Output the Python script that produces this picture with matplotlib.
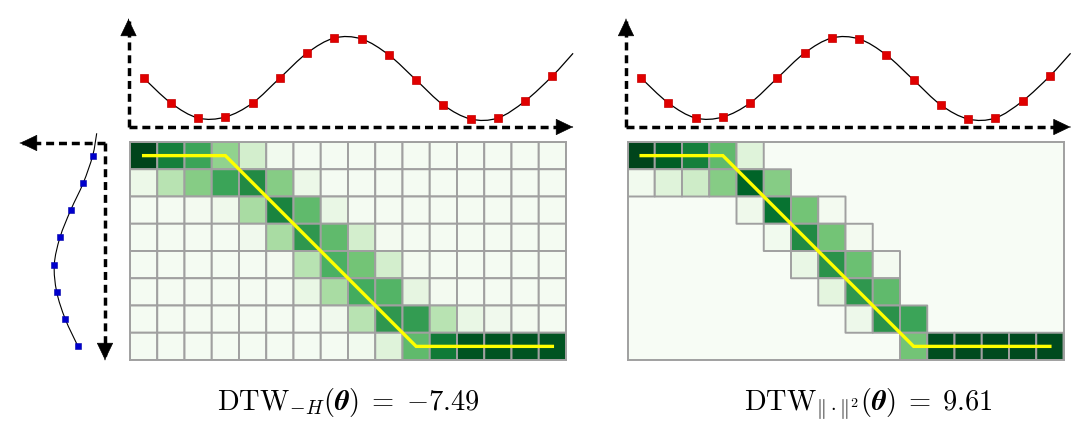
import matplotlib
matplotlib.use("Agg")
import matplotlib.pyplot as plt
import numpy as np
from matplotlib.path import Path
from matplotlib.patches import PathPatch

plt.rcParams['mathtext.fontset'] = 'cm'

nan = np.nan

# time series on top (one value per column of the grid)
top_vals = [4.9, 2.4, 0.9, 1.0, 2.4, 4.9, 7.4, 8.9, 8.8, 7.2, 4.7, 2.2, 0.8, 0.9, 2.6, 5.1]
top_tail = (15.76, 7.37)      # curve keeps going past the last sample
# time series on the left (one value per row)
left_vals = [1.23, 2.17, 3.43, 4.5, 5.07, 4.83, 3.97, 2.7]
left_head = (0.83, -0.82)     # curve starts above the first sample

# soft alignment matrix (-H regulariser)
soft = np.array([
    [1.00, 0.80, 0.65, 0.42, 0.20, 0.04, 0.02, 0.02, 0.02, 0.02, 0.02, 0.02, 0.02, 0.02, 0.02, 0.02],
    [0.08, 0.30, 0.45, 0.65, 0.75, 0.45, 0.08, 0.02, 0.02, 0.02, 0.02, 0.02, 0.02, 0.02, 0.02, 0.02],
    [0.02, 0.02, 0.03, 0.06, 0.35, 0.78, 0.55, 0.10, 0.02, 0.02, 0.02, 0.02, 0.02, 0.02, 0.02, 0.02],
    [0.02, 0.02, 0.02, 0.02, 0.05, 0.35, 0.70, 0.55, 0.20, 0.03, 0.02, 0.02, 0.02, 0.02, 0.02, 0.02],
    [0.02, 0.02, 0.02, 0.02, 0.02, 0.03, 0.30, 0.60, 0.50, 0.20, 0.03, 0.02, 0.02, 0.02, 0.02, 0.02],
    [0.02, 0.02, 0.02, 0.02, 0.02, 0.02, 0.10, 0.35, 0.62, 0.58, 0.12, 0.03, 0.02, 0.02, 0.02, 0.02],
    [0.02, 0.02, 0.02, 0.02, 0.02, 0.02, 0.02, 0.05, 0.30, 0.70, 0.68, 0.30, 0.10, 0.05, 0.03, 0.02],
    [0.02, 0.02, 0.02, 0.02, 0.02, 0.02, 0.02, 0.02, 0.04, 0.15, 0.55, 0.82, 0.95, 0.95, 0.95, 0.95],
])

# sparse alignment matrix (squared l2 regulariser), nan = exactly zero
sparse = np.array([
    [1.00, 0.92, 0.80, 0.55, 0.15, nan, nan, nan, nan, nan, nan, nan, nan, nan, nan, nan],
    [0.04, 0.15, 0.22, 0.45, 0.90, 0.45, nan, nan, nan, nan, nan, nan, nan, nan, nan, nan],
    [nan, nan, nan, nan, 0.06, 0.85, 0.50, 0.03, nan, nan, nan, nan, nan, nan, nan, nan],
    [nan, nan, nan, nan, nan, 0.04, 0.75, 0.50, 0.03, nan, nan, nan, nan, nan, nan, nan],
    [nan, nan, nan, nan, nan, nan, 0.10, 0.72, 0.52, 0.03, nan, nan, nan, nan, nan, nan],
    [nan, nan, nan, nan, nan, nan, nan, 0.13, 0.70, 0.55, nan, nan, nan, nan, nan, nan],
    [nan, nan, nan, nan, nan, nan, nan, nan, 0.07, 0.72, 0.65, nan, nan, nan, nan, nan],
    [nan, nan, nan, nan, nan, nan, nan, nan, nan, nan, 0.50, 0.97, 0.98, 0.98, 0.98, 0.98],
])

# best alignment path (row, col)
path_rows = [0, 0, 0, 0, 1, 2, 3, 4, 5, 6, 7, 7, 7, 7, 7, 7]
path_cols = [0, 1, 2, 3, 4, 5, 6, 7, 8, 9, 10, 11, 12, 13, 14, 15]

titles = [r'$\mathrm{DTW}_{-H}(\boldsymbol{\theta})\;=\;{-}7.49$',
          r'$\mathrm{DTW}_{\Vert\cdot\Vert^2}(\boldsymbol{\theta})\;=\;9.61$']
title_x = [348, 868]

W, H = 1089, 429
fig = plt.figure(figsize=(W / 100, H / 100), dpi=100)
fig.patch.set_facecolor('white')

CELL = 27.25
GRID_TOP = 142
grid_lefts = [130, 627.5]
grid_col = '#a0a0a0'


def px_axes(x0, y0, x1, y1):
    ax = fig.add_axes([x0 / W, 1 - y1 / H, (x1 - x0) / W, (y1 - y0) / H])
    ax.set_axis_off()
    return ax


def smooth(ax, xs, ys, **kw):
    # catmull-rom through the knots, drawn as cubic beziers
    P = np.column_stack([xs, ys])
    n = len(P)
    verts = [P[0]]
    codes = [Path.MOVETO]
    for i in range(n - 1):
        a = P[max(i - 1, 0)]
        d = P[min(i + 2, n - 1)]
        verts += [P[i] + (P[i + 1] - a) / 6, P[i + 1] - (d - P[i]) / 6, P[i + 1]]
        codes += [Path.CURVE4] * 3
    ax.add_patch(PathPatch(Path(verts, codes), fill=False, **kw))


def arrow(ax, p0, p1):
    p0, p1 = np.array(p0, float), np.array(p1, float)
    # dashed shaft, solid head
    end = p1 - (p1 - p0) / np.linalg.norm(p1 - p0) * 0.02
    ax.plot([p0[0], end[0]], [p0[1], end[1]], transform=ax.transAxes, color='k',
            lw=2.5, ls=(0, (2.3, 1.4)), clip_on=False, solid_capstyle='butt')
    ax.annotate('', xy=p1, xytext=p1 - (p1 - p0) * 0.001, xycoords='axes fraction',
                arrowprops=dict(arrowstyle='-|>,head_length=1.15,head_width=0.55',
                                mutation_scale=10, fc='k', ec='k', lw=0.5,
                                shrinkA=0, shrinkB=0))


for k, (M, gl) in enumerate(zip([soft, sparse], grid_lefts)):
    # heatmap
    ax = fig.add_axes([gl / W, 1 - (GRID_TOP + 8 * CELL) / H, 16 * CELL / W, 8 * CELL / H])
    ax.set_facecolor(plt.cm.Greens(0.0))
    ax.pcolor(np.ma.masked_invalid(M), cmap='Greens', vmin=0, vmax=1,
              edgecolors=grid_col, linewidth=1.4)
    ax.plot(np.array(path_cols) + 0.5, np.array(path_rows) + 0.5, color='#ffff00', lw=2.4,
            solid_joinstyle='miter')
    ax.set_xlim(0, 16)
    ax.set_ylim(8, 0)
    ax.set_xticks([])
    ax.set_yticks([])
    for s in ax.spines.values():
        s.set_color(grid_col)
        s.set_linewidth(1.4)

    # top series
    x0, x1 = gl - 1.5, gl + 443
    ta = px_axes(x0, 19, x1, 127)
    ta.set_xlim((x0 - gl) / CELL - 0.5, (x1 - gl) / CELL - 0.5)
    ta.set_ylim(0, 10.8)
    cols = np.arange(len(top_vals))
    smooth(ta, list(cols) + [top_tail[0]], top_vals + [top_tail[1]],
           color='k', lw=0.9, clip_on=False)
    ta.plot(cols, top_vals, 's', color='#e00000', mec='#c80000', mew=0.5, ms=6, clip_on=False)
    arrow(ta, (0, 0), (1, 0))
    arrow(ta, (0, 0), (0, 1))

    fig.text(title_x[k] / W, 1 - 410 / H, titles[k], ha='center', va='baseline', fontsize=20.5)

# left series
la = px_axes(20, 143, 105, 360)
la.set_xlim(8.5, 0)
la.set_ylim((360 - GRID_TOP) / CELL - 0.5, (143 - GRID_TOP) / CELL - 0.5)
rows = np.arange(len(left_vals))
smooth(la, [left_head[0]] + left_vals, [left_head[1]] + list(rows),
       color='k', lw=0.8, clip_on=False)
la.plot(left_vals, rows, 's', color='#0000cc', mec='#0000aa', mew=0.4, ms=4, clip_on=False)
arrow(la, (1, 1), (0, 1))
arrow(la, (1, 1), (1, 0))

fig.savefig('out.png', dpi=100)
